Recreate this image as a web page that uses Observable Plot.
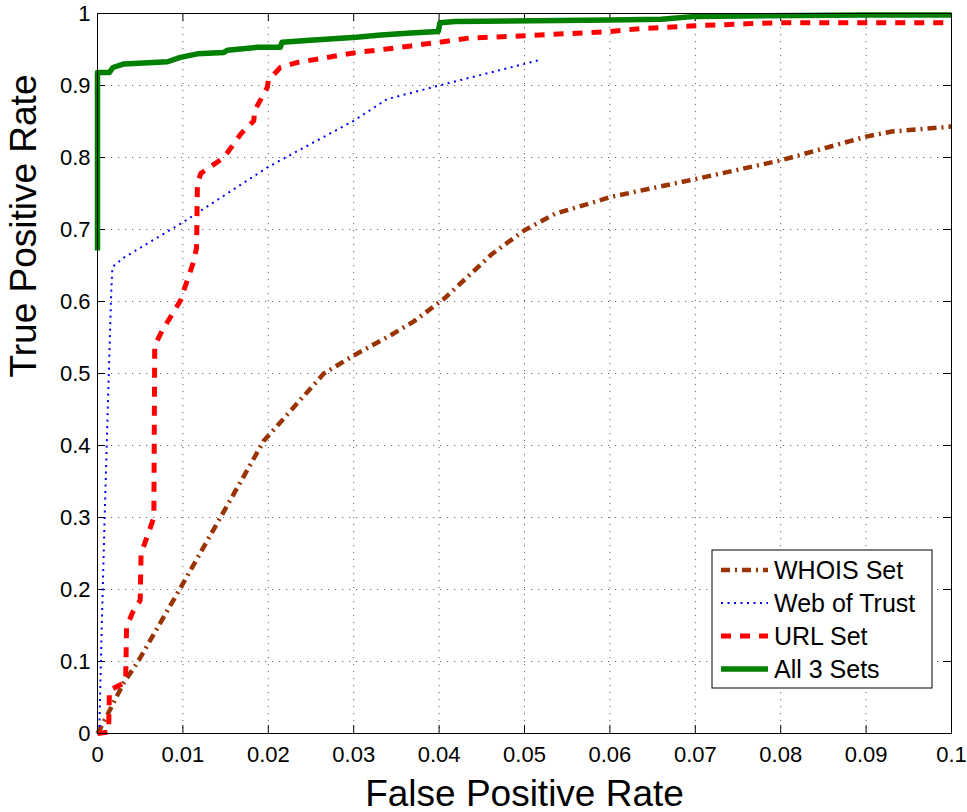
<!DOCTYPE html>
<html><head><meta charset="utf-8">
<script src="https://cdn.jsdelivr.net/npm/d3@7"></script>
<script src="https://cdn.jsdelivr.net/npm/@observablehq/plot@0.6"></script>
<style>body{margin:0;background:#fff}</style>
</head><body><div id="chart"></div>
<script>
const xTicks = [0, 0.01, 0.02, 0.03, 0.04, 0.05, 0.06, 0.07, 0.08, 0.09, 0.1];
const yTicks = [0, 0.1, 0.2, 0.3, 0.4, 0.5, 0.6, 0.7, 0.8, 0.9, 1];
const xTickLabels = ["0", "0.01", "0.02", "0.03", "0.04", "0.05", "0.06", "0.07", "0.08", "0.09", "0.1"];
const yTickLabels = ["0", "0.1", "0.2", "0.3", "0.4", "0.5", "0.6", "0.7", "0.8", "0.9", "1"];
const seriesNames = ["WHOIS Set", "Web of Trust", "URL Set", "All 3 Sets"];

const whoisFpr = [0, 0.0006, 0.0018, 0.0031, 0.0047, 0.01, 0.0195, 0.0214, 0.0265, 0.030, 0.0343, 0.037, 0.0406, 0.0462, 0.05, 0.0536, 0.0584, 0.06, 0.07, 0.08, 0.09, 0.093, 0.1];
const whoisTpr = [0, 0.013, 0.041, 0.071, 0.099, 0.208, 0.407, 0.432, 0.50, 0.525, 0.553, 0.572, 0.604, 0.666, 0.699, 0.722, 0.739, 0.745, 0.770, 0.796, 0.829, 0.836, 0.843];

const wotFpr = [0.0002, 0.0005, 0.00085, 0.0012, 0.0016, 0.00175, 0.0031, 0.01, 0.02, 0.03, 0.0339, 0.04, 0.05, 0.0516];
const wotTpr = [0, 0.15, 0.305, 0.45, 0.611, 0.648, 0.661, 0.710, 0.787, 0.851, 0.881, 0.90, 0.930, 0.935];

const urlFpr = [0, 0.0013, 0.0014, 0.0029, 0.0033, 0.0034, 0.0041, 0.005, 0.0051, 0.0058, 0.0066, 0.0067, 0.0076, 0.0097, 0.0105, 0.0113, 0.0116, 0.0117, 0.0121, 0.0148, 0.0168, 0.0183, 0.0184, 0.0199, 0.020, 0.0214, 0.0234, 0.0304, 0.0341, 0.0367, 0.040, 0.0436, 0.05, 0.06, 0.0635, 0.07, 0.0766, 0.08, 0.1];
const urlTpr = [0, 0.002, 0.060, 0.069, 0.076, 0.147, 0.168, 0.185, 0.25, 0.273, 0.30, 0.539, 0.56, 0.601, 0.629, 0.657, 0.675, 0.764, 0.778, 0.80, 0.833, 0.851, 0.865, 0.898, 0.907, 0.925, 0.932, 0.946, 0.951, 0.955, 0.960, 0.966, 0.969, 0.975, 0.979, 0.983, 0.986, 0.987, 0.987];

const allFpr = [0, 0, 0.0014, 0.0018, 0.0031, 0.0082, 0.0097, 0.0117, 0.0148, 0.0152, 0.0187, 0.0214, 0.0216, 0.0249, 0.0303, 0.0332, 0.0367, 0.0399, 0.0401, 0.0419, 0.060, 0.066, 0.070, 0.090, 0.100];
const allTpr = [0.671, 0.918, 0.918, 0.925, 0.930, 0.933, 0.939, 0.944, 0.946, 0.949, 0.953, 0.953, 0.960, 0.963, 0.967, 0.970, 0.973, 0.975, 0.987, 0.989, 0.991, 0.992, 0.996, 0.998, 0.998];

const styles = [
  {stroke: "#993300", strokeWidth: 4.5, strokeDasharray: "9,5,2,5"},
  {stroke: "#0000ff", strokeWidth: 2, strokeDasharray: "2,4.5"},
  {stroke: "#ff0000", strokeWidth: 5, strokeDasharray: "10,9"},
  {stroke: "#008000", strokeWidth: 5.5, strokeDasharray: null}
];
const fprs = [whoisFpr, wotFpr, urlFpr, allFpr];
const tprs = [whoisTpr, wotTpr, urlTpr, allTpr];
const seriesData = seriesNames.map((name, k) => fprs[k].map((x, i) => ({name, fpr: x, tpr: tprs[k][i]})));

const W = 967, H = 812, mL = 97, mR = 16, mT = 13, mB = 79;
const frameW = W - mL - mR, frameH = H - mT - mB;
const tickLen = 8;
const fmtX = d => xTickLabels[xTicks.findIndex(t => Math.abs(t - d) < 1e-9)];
const fmtY = d => yTickLabels[yTicks.findIndex(t => Math.abs(t - d) < 1e-9)];

const chart = Plot.plot({
  width: W, height: H,
  marginLeft: mL, marginRight: mR, marginTop: mT, marginBottom: mB,
  style: {fontFamily: "'Liberation Sans', Arial, Helvetica, sans-serif", color: "#000", background: "#fff"},
  x: {domain: [0, 0.1]},
  y: {domain: [0, 1]},
  marks: [
    Plot.gridX(xTicks.slice(1, -1), {stroke: "#000", strokeOpacity: 0.6, strokeDasharray: "1.2,5.8"}),
    Plot.gridY(yTicks.slice(1, -1), {stroke: "#000", strokeOpacity: 0.6, strokeDasharray: "1.2,5.8"}),
    Plot.tickX(xTicks, {x: d => d, insetTop: frameH - tickLen, stroke: "#000"}),
    Plot.tickX(xTicks, {x: d => d, insetBottom: frameH - tickLen, stroke: "#000"}),
    Plot.tickY(yTicks, {y: d => d, insetRight: frameW - tickLen, stroke: "#000"}),
    Plot.tickY(yTicks, {y: d => d, insetLeft: frameW - tickLen, stroke: "#000"}),
    ...seriesData.map((data, k) => Plot.line(data, {x: "fpr", y: "tpr", ...styles[k], strokeLinejoin: "round", strokeLinecap: "butt"})),
    Plot.frame({stroke: "#000", strokeWidth: 1}),
    Plot.axisX(xTicks, {tickSize: 0, tickPadding: 13, fontSize: 22, tickFormat: fmtX, label: null}),
    Plot.axisY(yTicks, {tickSize: 0, tickPadding: 7, fontSize: 22, tickFormat: fmtY, label: null}),
    Plot.text(["False Positive Rate"], {frameAnchor: "bottom", dy: 72, fontSize: 37, lineAnchor: "bottom", fill: "#000"}),
    Plot.text(["True Positive Rate"], {frameAnchor: "left", dx: -62, dy: 4, rotate: -90, fontSize: 37, lineAnchor: "bottom", fill: "#000"})
  ]
});
document.getElementById("chart").appendChild(chart);

// legend
const svg = d3.select(chart);
const lg = svg.append("g")
  .attr("font-family", "'Liberation Sans', Arial, Helvetica, sans-serif")
  .attr("text-anchor", "start");
lg.append("rect").attr("x", 712).attr("y", 550).attr("width", 220).attr("height", 138)
  .attr("fill", "#fff").attr("stroke", "#000").attr("stroke-width", 1);
const rowY = [570, 603, 636, 669];
seriesNames.forEach((name, k) => {
  const s = styles[k];
  lg.append("line").attr("x1", 721).attr("x2", 768).attr("y1", rowY[k]).attr("y2", rowY[k])
    .attr("stroke", s.stroke).attr("stroke-width", s.strokeWidth)
    .attr("stroke-dasharray", s.strokeDasharray);
  lg.append("text").attr("x", 774).attr("y", rowY[k]).attr("dy", "0.35em")
    .attr("text-anchor", "start")
    .attr("font-size", 25).attr("fill", "#000").text(name);
});
</script>
</body></html>
